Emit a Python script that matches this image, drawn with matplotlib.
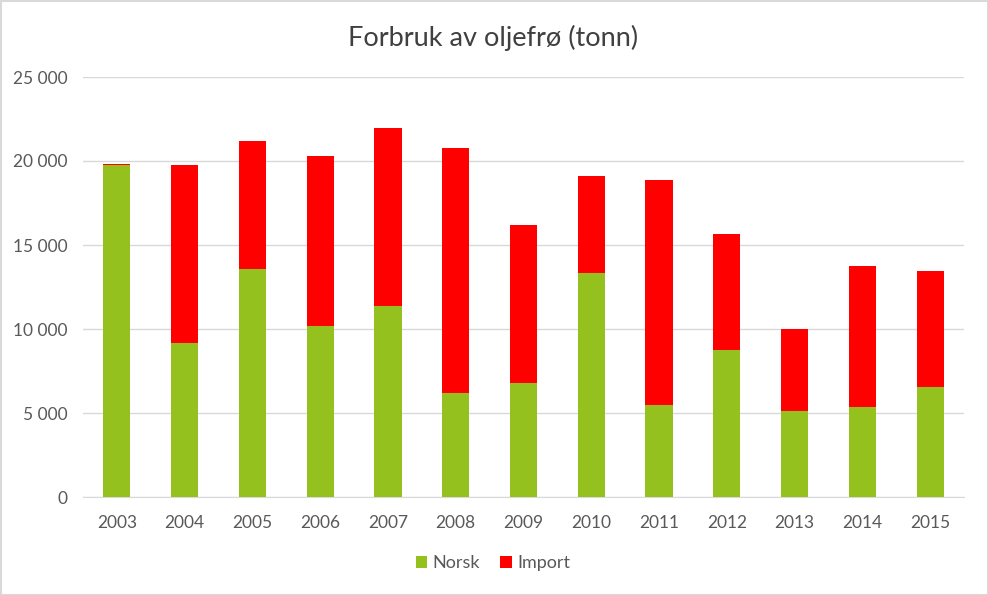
import matplotlib
matplotlib.use("Agg")
import matplotlib.pyplot as plt
from matplotlib.patches import Rectangle
from matplotlib.ticker import FuncFormatter, MultipleLocator
import numpy as np

years = ["2003", "2004", "2005", "2006", "2007", "2008", "2009", "2010",
         "2011", "2012", "2013", "2014", "2015"]
norsk = [19760, 9180, 13590, 10180, 11370, 6190, 6790, 13330, 5480, 8750, 5140, 5360, 6550]
total = [19840, 19760, 21190, 20300, 21960, 20770, 16190, 19110, 18870, 15650, 10000, 13750, 13450]
importv = [t - n for t, n in zip(total, norsk)]

plt.rcParams['font.family'] = ['Lato', 'DejaVu Sans']

fig = plt.figure(figsize=(9.88, 5.95), dpi=100)
ax = fig.add_axes([83/988, 1-497/595, (964-83)/988, (497-77)/595])

x = np.arange(len(years))
w = 0.4
ax.bar(x, norsk, w, color="#95c11f", label="Norsk", zorder=3)
ax.bar(x, importv, w, bottom=norsk, color="#ff0000", label="Import", zorder=3)

ax.set_xlim(-0.5, len(years) - 0.5)
ax.set_ylim(0, 25000)
ax.yaxis.set_major_locator(MultipleLocator(5000))
ax.yaxis.set_major_formatter(FuncFormatter(lambda v, p: f"{int(v):,}".replace(",", " ")))
ax.set_xticks(x)
ax.set_xticklabels(years)
ax.grid(axis="y", color="#d9d9d9", linewidth=1, zorder=0)
for s in ["top", "right", "left"]:
    ax.spines[s].set_visible(False)
ax.spines["bottom"].set_color("#d9d9d9")
ax.tick_params(axis="both", length=0, colors="#595959", labelsize=12.5)
ax.tick_params(axis="y", pad=11)
ax.tick_params(axis="x", pad=13)

fig.text(493/988, 1-38/595, "Forbruk av oljefrø (tonn)", ha="center", va="center",
         fontsize=19.5, color="#404040")

leg = fig.legend(loc="center", bbox_to_anchor=(493/988, 1-563/595), ncol=2, frameon=False,
                 fontsize=13, handlelength=0.65, handleheight=0.65, handletextpad=0.3,
                 columnspacing=1.1, labelcolor="#595959")

fig.patches.append(Rectangle((0.5/988, 0.5/595), 1-1/988, 1-1/595, transform=fig.transFigure,
                             fill=False, edgecolor="#d9d9d9", linewidth=1.5))

fig.savefig("out.png", dpi=100, facecolor="white")
